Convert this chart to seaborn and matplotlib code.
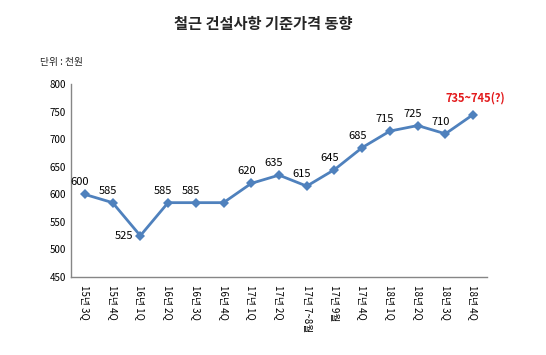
import matplotlib
matplotlib.use('Agg')
import matplotlib.pyplot as plt
import seaborn as sns
import pandas as pd

# 데이터
periods = ['15년 3Q', '15년 4Q', '16년 1Q', '16년 2Q', '16년 3Q', '16년 4Q',
           '17년 1Q', '17년 2Q', '17년 7~8월', '17년 9월', '17년 4Q',
           '18년 1Q', '18년 2Q', '18년 3Q', '18년 4Q']
prices = [600, 585, 525, 585, 585, 585, 620, 635, 615, 645, 685, 715, 725, 710, 745]
point_labels = ['600', '585', '525', '585', '585', '', '620', '635', '615', '645',
                '685', '715', '725', '710', '735~745(?)']

sns.set_style('white')
plt.rcParams['font.family'] = ['Noto Sans CJK KR', 'DejaVu Sans']

df = pd.DataFrame({'period': periods, 'price': prices})

fig = plt.figure(figsize=(5.46, 3.55), dpi=100)
ax = fig.add_axes([0.130, 0.2197, 0.762, 0.543])

sns.lineplot(data=df, x='period', y='price', sort=False, ax=ax,
             color='#4F81BD', linewidth=2, marker='D', markersize=5.5,
             markeredgewidth=0)

# 값 레이블
for i, (v, lab) in enumerate(zip(prices, point_labels)):
    if not lab:
        continue
    if i == len(prices) - 1:
        ax.annotate(lab, (i, v), xytext=(2, 17), textcoords='offset pixels',
                    ha='center', va='center', fontsize=8, fontweight='bold',
                    color='#E31A1C')
    elif lab == '525':
        ax.annotate(lab, (i, v), xytext=(-7, 0), textcoords='offset pixels',
                    ha='right', va='center', fontsize=8, color='black')
    else:
        ax.annotate(lab, (i, v), xytext=(-5, 12), textcoords='offset pixels',
                    ha='center', va='center', fontsize=8, color='black')

ax.set_xlim(-0.5, len(periods) - 0.5)
ax.set_ylim(450, 800)
ax.set_yticks(range(450, 801, 50))
ax.set_xlabel('')
ax.set_ylabel('')
ax.tick_params(axis='both', length=0, labelsize=7, colors='black')
ax.tick_params(axis='x', pad=6)
plt.setp(ax.get_xticklabels(), rotation=270, va='top', ha='center')

for s in ['top', 'right']:
    ax.spines[s].set_visible(False)
for s in ['left', 'bottom']:
    ax.spines[s].set_color('#868686')
    ax.spines[s].set_linewidth(1)

fig.text(0.482, 0.932, '철근 건설사항 기준가격 동향', ha='center', va='center',
         fontsize=11, fontweight='bold')
fig.text(0.073, 0.825, '단위 : 천원', ha='left', va='center', fontsize=7)

fig.savefig('out.png', dpi=100)
